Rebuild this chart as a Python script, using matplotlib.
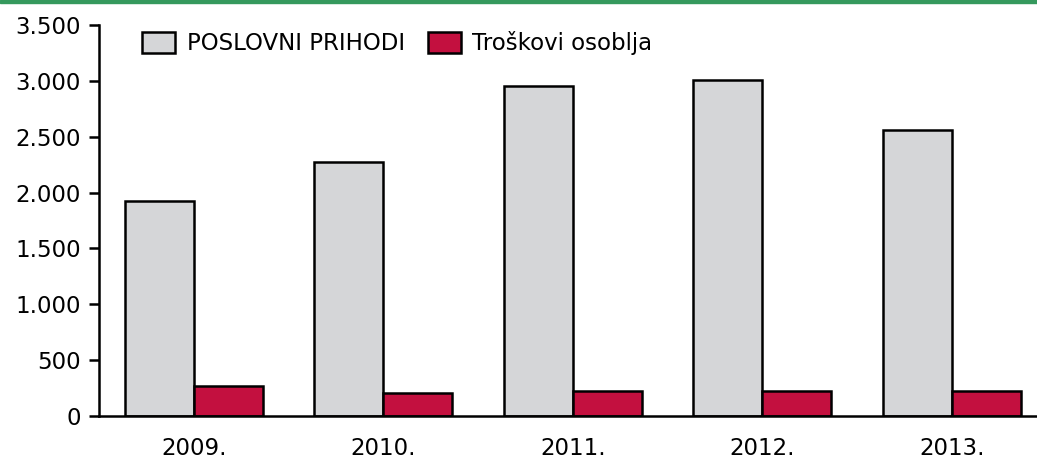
import numpy as np
import matplotlib.pyplot as plt
from matplotlib.patches import Rectangle

godine = ["2009.", "2010.", "2011.", "2012.", "2013."]
poslovni_prihodi = [1925, 2274, 2950, 3005, 2560]
troskovi_osoblja = [268, 206, 224, 224, 224]

plt.rcParams['font.family'] = ['DejaVu Sans']

fig = plt.figure(figsize=(10.37, 4.62), dpi=100)
ax = fig.add_axes([99 / 1037, (462 - 416) / 462, 1 - 99 / 1037, (416 - 25) / 462])

x = np.arange(len(godine))
w = 0.365
ax.bar(x - w / 2, poslovni_prihodi, w, color="#d5d6d8", edgecolor="black", linewidth=1.8,
       label="POSLOVNI PRIHODI")
ax.bar(x + w / 2, troskovi_osoblja, w, color="#c3103f", edgecolor="black", linewidth=1.8,
       label="Troškovi osoblja")

ax.set_ylim(0, 3500)
ax.set_xlim(-0.5, 4.45)
ax.set_yticks(range(0, 3501, 500))
ax.set_yticklabels([f"{v:,}".replace(",", ".") for v in range(0, 3501, 500)])
ax.set_xticks(x)
ax.set_xticklabels(godine)

for s in ["top", "right"]:
    ax.spines[s].set_visible(False)
ax.spines["left"].set_linewidth(1.8)
ax.spines["bottom"].set_linewidth(1.8)
ax.tick_params(axis="y", length=7, width=1.8, labelsize=16.5, pad=6)
ax.tick_params(axis="x", length=0, labelsize=16.5, pad=15)

ax.legend(loc="upper left", bbox_to_anchor=((142 - 99) / 938, (416 - 31) / 391), ncol=2,
          frameon=False, fontsize=16.5, handlelength=1.45, handleheight=1.05,
          columnspacing=1.0, handletextpad=0.5, borderpad=0, borderaxespad=0)

fig.add_artist(Rectangle((0, 1 - 3 / 462), 1, 3 / 462, transform=fig.transFigure,
                         color="#35995d", clip_on=False))

fig.savefig("out.png", dpi=100)
